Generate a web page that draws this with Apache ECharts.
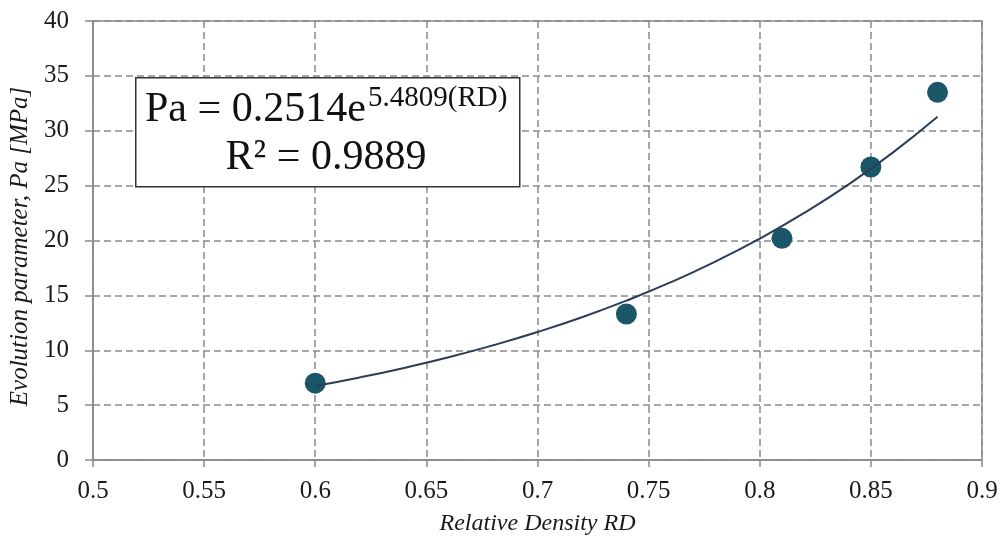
<!DOCTYPE html>
<html>
<head>
<meta charset="utf-8">
<script src="https://cdn.jsdelivr.net/npm/echarts@6/dist/echarts.min.js"></script>
<style>
html,body{margin:0;padding:0;background:#fff;}
#chart{width:1002px;height:545px;}
</style>
</head>
<body>
<div id="chart"></div>
<script>
// Measured points
var rdValues = [0.60, 0.74, 0.81, 0.85, 0.88];
var paValues = [7.0, 13.3, 20.2, 26.7, 33.5];
// Exponential trend line
var trendRD = [0.60, 0.62, 0.64, 0.66, 0.68, 0.70, 0.72, 0.74, 0.76, 0.78, 0.80, 0.82, 0.84, 0.86, 0.88];
var trendPa = [6.74, 7.52, 8.39, 9.36, 10.45, 11.66, 13.01, 14.52, 16.20, 18.08, 20.17, 22.51, 25.12, 28.03, 31.27];
var xTitle = 'Relative Density RD';
var yTitle = 'Evolution parameter, Pa [MPa]';
var eqMain = 'Pa = 0.2514e';
var eqExp = '5.4809(RD)';
var eqR2 = 'R² = 0.9889';

var FONT = '"Liberation Serif", "Times New Roman", serif';
var GRAY = '#8a8a8a';

var pts = rdValues.map(function (x, i) { return [x, paValues[i]]; });
var trend = trendRD.map(function (x, i) { return [x, trendPa[i]]; });

var chart = echarts.init(document.getElementById('chart'));
chart.setOption({
  animation: false,
  backgroundColor: '#ffffff',
  grid: {
    left: 93, right: 20, top: 21, bottom: 85,
    show: true, borderColor: GRAY, borderWidth: 1.5, backgroundColor: 'transparent'
  },
  xAxis: {
    type: 'value', min: 0.5, max: 0.9, interval: 0.05,
    name: xTitle, nameLocation: 'middle', nameGap: 52,
    nameTextStyle: { fontFamily: FONT, fontStyle: 'italic', fontSize: 24, color: '#1a1a1a' },
    axisLine: { show: true, lineStyle: { color: GRAY, width: 1.5 } },
    axisTick: { show: true, length: 7, lineStyle: { color: GRAY, width: 1.5 } },
    axisLabel: { fontFamily: FONT, fontSize: 25, color: '#1a1a1a', margin: 19 },
    splitLine: { show: true, lineStyle: { color: GRAY, width: 1.5, type: [7, 4] } }
  },
  yAxis: {
    type: 'value', min: 0, max: 40, interval: 5,
    name: yTitle, nameLocation: 'middle', nameGap: 56, nameRotate: 90,
    nameTextStyle: { fontFamily: FONT, fontStyle: 'italic', fontSize: 25, color: '#1a1a1a', padding: [0, 12, 0, 0] },
    axisLine: { show: true, lineStyle: { color: GRAY, width: 1.5 } },
    axisTick: { show: true, length: 8, lineStyle: { color: GRAY, width: 1.5 } },
    axisLabel: { fontFamily: FONT, fontSize: 25, color: '#1a1a1a', margin: 24 },
    splitLine: { show: true, lineStyle: { color: GRAY, width: 1.5, type: [7, 4] } }
  },
  series: [
    {
      type: 'scatter', data: pts, symbol: 'circle', symbolSize: 21,
      itemStyle: { color: '#1b5668', opacity: 1 }, z: 2
    },
    {
      type: 'line', data: trend, smooth: true, showSymbol: false, symbol: 'none',
      lineStyle: { color: '#2b3d57', width: 2 }, z: 3
    }
  ],
  graphic: [
    {
      type: 'rect', left: 135, top: 77, z: 100,
      shape: { width: 384, height: 109 },
      style: { fill: '#ffffff', stroke: '#333333', lineWidth: 1.5 }
    },
    {
      type: 'text', x: 145, y: 110, z: 101,
      style: { text: eqMain, font: '42px ' + FONT, fill: '#111', verticalAlign: 'middle', align: 'left' }
    },
    {
      type: 'text', x: 368, y: 98, z: 101,
      style: { text: eqExp, font: '29px ' + FONT, fill: '#111', verticalAlign: 'middle', align: 'left' }
    },
    {
      type: 'text', x: 326, y: 158, z: 101,
      style: { text: eqR2, font: '42px ' + FONT, fill: '#111', verticalAlign: 'middle', align: 'center' }
    }
  ]
});
</script>
</body>
</html>
